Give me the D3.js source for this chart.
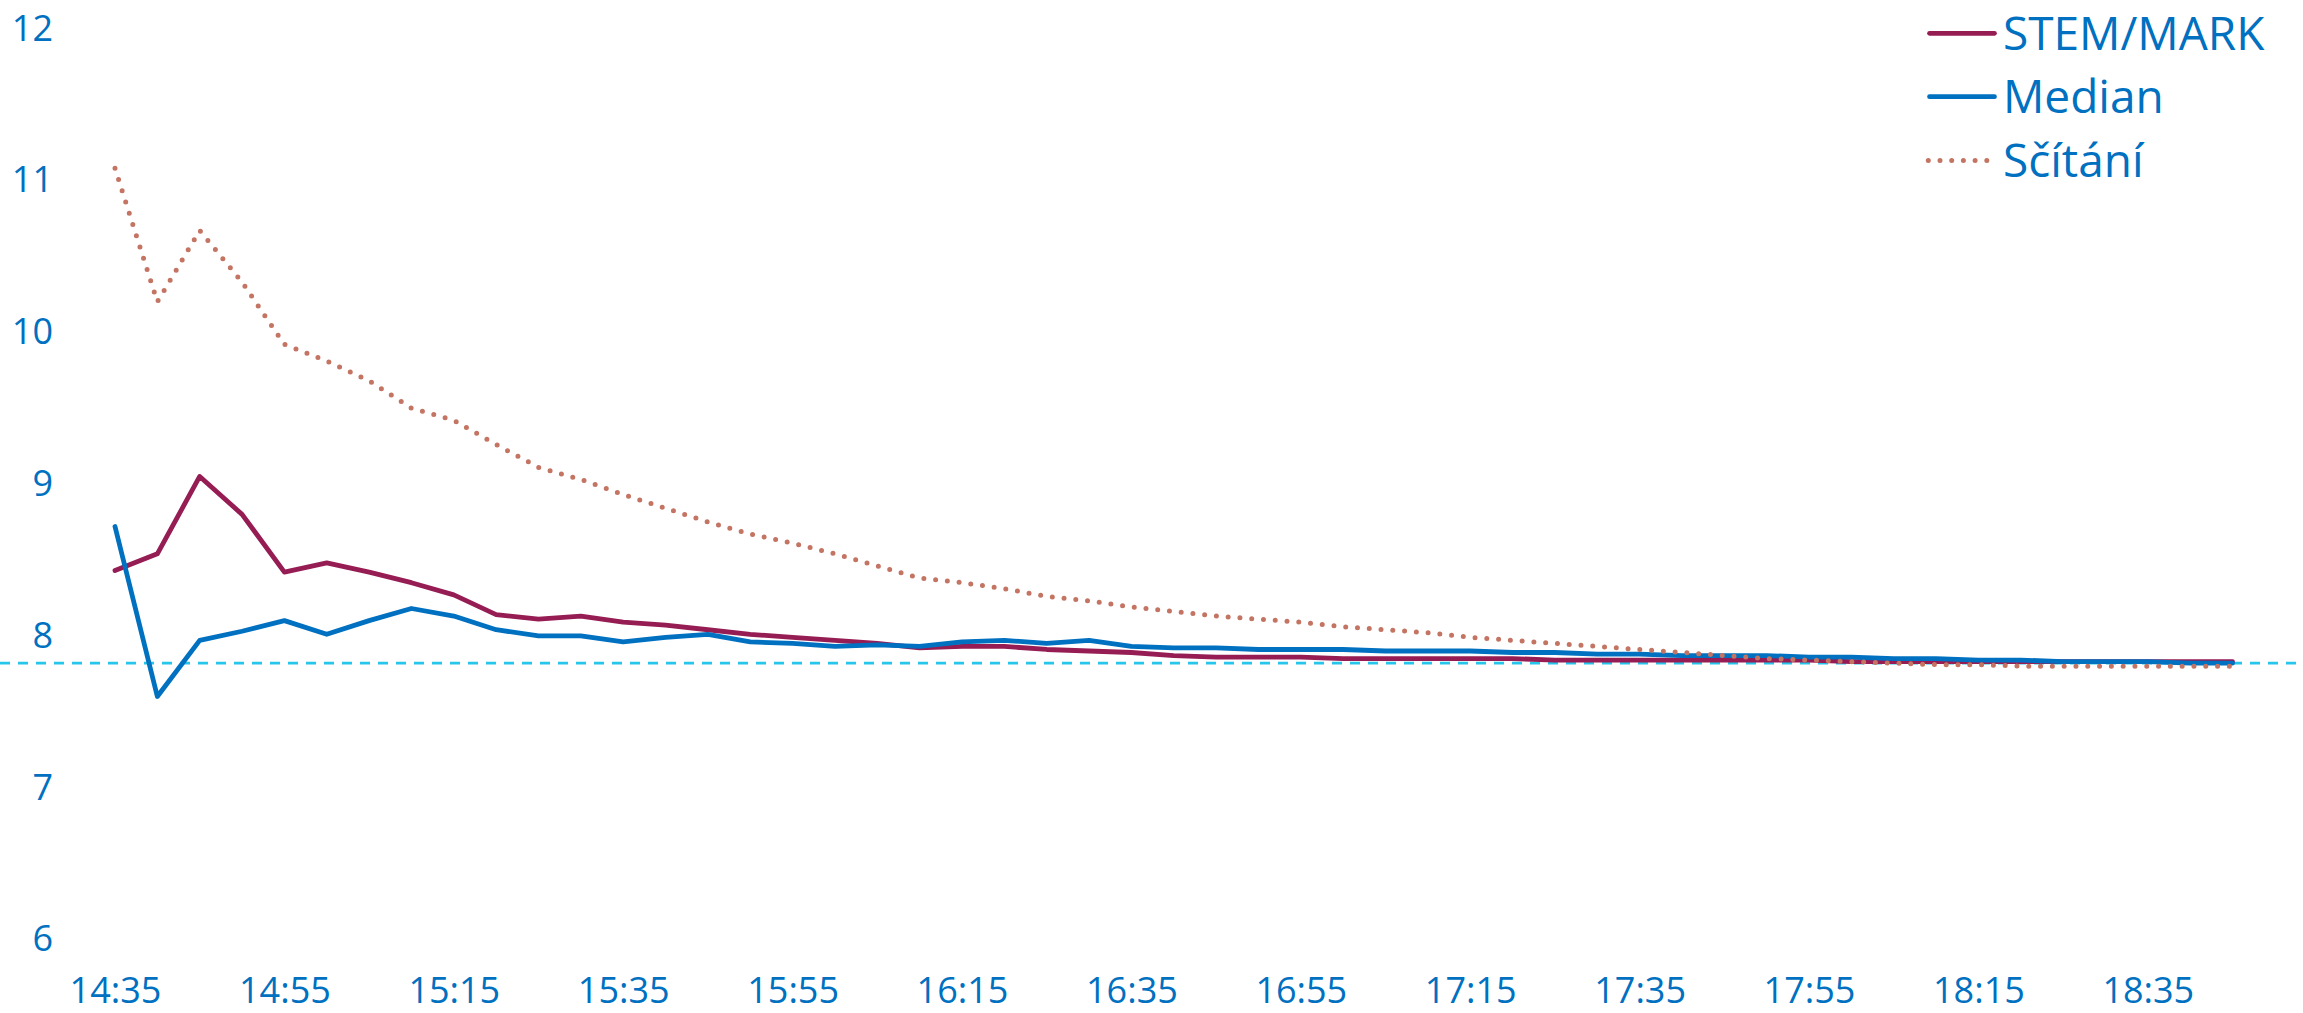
<!DOCTYPE html>
<html>
<head>
<meta charset="utf-8">
<script src="https://cdn.jsdelivr.net/npm/d3@7/dist/d3.min.js"></script>
<style>
  html, body { margin: 0; padding: 0; background: #ffffff; }
  svg { display: block; }
  text { font-family: "Open Sans", "Noto Sans", sans-serif; fill: #0070C0; }
</style>
</head>
<body>
<svg id="chart" width="2303" height="1013"></svg>
<script>
// Time slots (every 5 minutes)
const times = [
  "14:35","14:40","14:45","14:50","14:55","15:00","15:05","15:10","15:15","15:20",
  "15:25","15:30","15:35","15:40","15:45","15:50","15:55","16:00","16:05","16:10",
  "16:15","16:20","16:25","16:30","16:35","16:40","16:45","16:50","16:55","17:00",
  "17:05","17:10","17:15","17:20","17:25","17:30","17:35","17:40","17:45","17:50",
  "17:55","18:00","18:05","18:10","18:15","18:20","18:25","18:30","18:35","18:40",
  "18:45"
];

// Labelled time slots on the horizontal axis
const timeTicks = ["14:35","14:55","15:15","15:35","15:55","16:15","16:35",
                   "16:55","17:15","17:35","17:55","18:15","18:35"];

const valueTicks = [6, 7, 8, 9, 10, 11, 12];

const stemMark = [
  8.42, 8.53, 9.04, 8.79, 8.41, 8.47, 8.41, 8.34, 8.26, 8.13,
  8.10, 8.12, 8.08, 8.06, 8.03, 8.00, 7.98, 7.96, 7.94, 7.91,
  7.92, 7.92, 7.90, 7.89, 7.88, 7.86, 7.85, 7.85, 7.85, 7.84,
  7.84, 7.84, 7.84, 7.84, 7.83, 7.83, 7.83, 7.83, 7.83, 7.83,
  7.83, 7.82, 7.82, 7.82, 7.82, 7.82, 7.82, 7.82, 7.82, 7.82,
  7.82
];

const median = [
  8.71, 7.59, 7.96, 8.02, 8.09, 8.00, 8.09, 8.17, 8.12, 8.03,
  7.99, 7.99, 7.95, 7.98, 8.00, 7.95, 7.94, 7.92, 7.93, 7.92,
  7.95, 7.96, 7.94, 7.96, 7.92, 7.91, 7.91, 7.90, 7.90, 7.90,
  7.89, 7.89, 7.89, 7.88, 7.88, 7.87, 7.87, 7.86, 7.86, 7.86,
  7.85, 7.85, 7.84, 7.84, 7.83, 7.83, 7.82, 7.82, 7.82, 7.81,
  7.81
];

const scitani = [
  11.07, 10.19, 10.66, 10.32, 9.91, 9.80, 9.67, 9.49, 9.41, 9.25,
  9.10, 9.02, 8.92, 8.83, 8.74, 8.66, 8.60, 8.53, 8.45, 8.37,
  8.34, 8.30, 8.25, 8.22, 8.18, 8.15, 8.12, 8.10, 8.08, 8.05,
  8.03, 8.01, 7.98, 7.96, 7.94, 7.92, 7.90, 7.88, 7.86, 7.84,
  7.83, 7.82, 7.81, 7.80, 7.80, 7.79, 7.79, 7.79, 7.79, 7.79,
  7.79
];

// Horizontal reference level
const referenceLevel = 7.81;

const seriesNames = ["STEM/MARK", "Median", "Sčítání"];
const seriesValues = [stemMark, median, scitani];
const seriesColors = ["#961C54", "#0070C0", "#C47462"];
const seriesDotted = [false, false, true];

const W = 2303, H = 1013;
const svg = d3.select("#chart");

const x = d3.scalePoint().domain(times).range([115, 2232.5]);
const y = d3.scaleLinear().domain([6, 12]).range([937.9, 27.1]);

// Reference level, dashed across the full width
svg.append("line")
  .attr("x1", 0).attr("x2", W)
  .attr("y1", y(referenceLevel)).attr("y2", y(referenceLevel))
  .attr("stroke", "#26C5EA")
  .attr("stroke-width", 2.6)
  .attr("stroke-dasharray", "10 8");

// Value axis
const yAxis = svg.append("g")
  .attr("transform", "translate(60,0)")
  .call(d3.axisLeft(y).tickValues(valueTicks).tickSize(0).tickPadding(7).tickFormat(d3.format("d")));
yAxis.select(".domain").remove();
yAxis.selectAll("text")
  .attr("dy", "0.36em")
  .style("font-size", "36px")
  .attr("fill", "#0070C0");

// Time axis
const xAxis = svg.append("g")
  .attr("transform", "translate(0,972)")
  .call(d3.axisBottom(x).tickValues(timeTicks).tickSize(0).tickPadding(5));
xAxis.select(".domain").remove();
xAxis.selectAll("text")
  .style("font-size", "36px")
  .attr("fill", "#0070C0");

// Series lines
const line = d3.line()
  .x((d, i) => x(times[i]))
  .y(d => y(d));

seriesValues.forEach((vals, k) => {
  const p = svg.append("path")
    .datum(vals)
    .attr("d", line)
    .attr("fill", "none")
    .attr("stroke", seriesColors[k])
    .attr("stroke-linejoin", "round")
    .attr("stroke-linecap", "round");
  if (seriesDotted[k]) {
    p.attr("stroke-width", 5).attr("stroke-dasharray", "0 11.8");
  } else {
    p.attr("stroke-width", 4.8);
  }
});

// Legend
const legend = svg.append("g").attr("transform", "translate(1927,0)");
const legendRows = [33.3, 96.7, 160.5];
seriesNames.forEach((name, k) => {
  const row = legend.append("g").attr("transform", `translate(0,${legendRows[k]})`);
  const sample = row.append("line")
    .attr("x1", seriesDotted[k] ? 1.3 : 2.5)
    .attr("x2", seriesDotted[k] ? 62 : 67.5)
    .attr("y1", 0).attr("y2", 0)
    .attr("stroke", seriesColors[k])
    .attr("stroke-linecap", "round");
  if (seriesDotted[k]) {
    sample.attr("stroke-width", 5).attr("stroke-dasharray", "0 11.7");
  } else {
    sample.attr("stroke-width", 4.7);
  }
  row.append("text")
    .attr("x", 76)
    .attr("y", 0)
    .attr("dy", "0.357em")
    .style("font-size", "46px")
    .text(name);
});
</script>
</body>
</html>
